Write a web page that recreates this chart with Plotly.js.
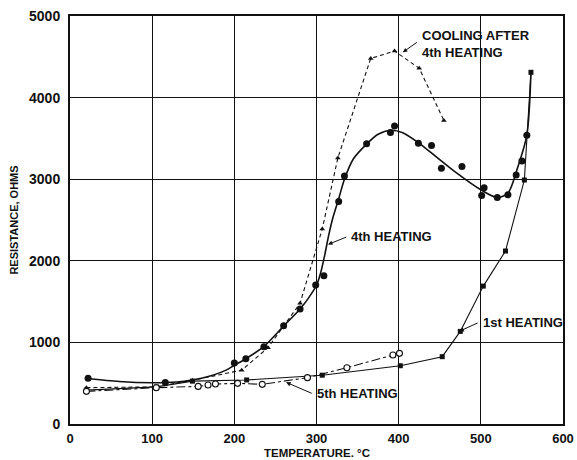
<!DOCTYPE html>
<html>
<head>
<meta charset="utf-8">
<script src="https://cdn.plot.ly/plotly-3.0.1.min.js"></script>
<style>html,body{margin:0;padding:0;background:#fff;}#chart{width:577px;height:460px;}</style>
</head>
<body>
<div id="chart"></div>
<script>
// 4th heating: measured points
const heat4T = [22, 116, 200, 214, 236, 260, 280, 299, 309, 327, 334, 361, 390, 395, 424, 440, 452, 477, 501, 504, 520, 533, 543, 550, 556];
const heat4R = [560, 510, 747, 800, 947, 1204, 1408, 1702, 1816, 2727, 3040, 3433, 3571, 3653, 3441, 3412, 3135, 3155, 2800, 2894, 2776, 2808, 3053, 3224, 3539];
// 4th heating: smooth drawn curve
const heat4CurveT = [20, 60, 100, 130, 160, 190, 200, 214, 236, 260, 280, 290, 300, 305, 310, 315, 320, 327, 334, 345, 361, 375, 390, 405, 425, 445, 470, 500, 520, 533, 545, 556, 561];
const heat4CurveR = [560, 520, 505, 515, 560, 660, 720, 800, 950, 1200, 1410, 1540, 1700, 1850, 2070, 2320, 2530, 2760, 3000, 3250, 3430, 3550, 3600, 3570, 3440, 3280, 3080, 2870, 2775, 2830, 3150, 3540, 4310];
// Cooling after 4th heating
const cool4T = [20, 105, 149, 209, 241, 280, 307, 326, 366, 395, 425, 455];
const cool4R = [445, 455, 535, 660, 935, 1480, 2390, 3260, 4480, 4570, 4360, 3720];
// 1st heating
const heat1T = [20, 105, 149, 215, 307, 402, 453, 475, 503, 530, 553, 561];
const heat1R = [415, 455, 525, 540, 598, 714, 825, 1135, 1690, 2120, 2990, 4310];
// 5th heating
const heat5T = [20, 105, 156, 168, 177, 204, 234, 289, 337, 393, 401];
const heat5R = [400, 445, 461, 478, 490, 498, 486, 568, 690, 845, 866];
// Axis ticks
const xTicks = [0, 100, 200, 300, 400, 500, 600];
const yTicks = [0, 1000, 2000, 3000, 4000, 5000];
const xTitle = 'TEMPERATURE. °C';
const yTitle = 'RESISTANCE, OHMS';
// Labels: [text, textT, textR, tailT, tailR, arrowHeadT, arrowHeadR]
const labels = [
  ["COOLING AFTER<br>4th HEATING", 426, 4660, 424, 4690, 405, 4555],
  ["4th HEATING", 340, 2298, 338, 2298, 314, 2200],
  ["1st HEATING", 500, 1247, 498, 1247, 474, 1137],
  ["5th HEATING", 298, 368, 296, 368, 263, 511]
];

const ink = '#111';
const fam = 'Liberation Sans, Arial, sans-serif';
const traces = [
  {x: heat4CurveT, y: heat4CurveR, mode: 'lines', line: {color: ink, width: 1.6, shape: 'spline', smoothing: 0.8}, hoverinfo: 'skip'},
  {x: heat4T, y: heat4R, mode: 'markers', marker: {color: ink, size: 7, symbol: 'circle'}},
  {x: cool4T, y: cool4R, mode: 'lines+markers', line: {color: ink, width: 1.1, dash: '4px,3px'}, marker: {color: ink, size: 5, symbol: 'triangle-up'}},
  {x: heat1T, y: heat1R, mode: 'lines+markers', line: {color: ink, width: 1.1}, marker: {color: ink, size: 5, symbol: 'square'}},
  {x: heat5T, y: heat5R, mode: 'lines+markers', line: {color: ink, width: 1.1, dash: 'dashdot'}, marker: {color: '#fff', size: 6, symbol: 'circle', line: {color: ink, width: 1.1}}}
];

const lblFont = {family: fam, size: 13, color: ink, weight: 'bold'};
const annotations = [];
labels.forEach(l => {
  annotations.push({x: l[1], y: l[2], xref: 'x', yref: 'y', text: l[0], showarrow: false, xanchor: 'left', yanchor: 'middle', align: 'left',
    font: lblFont});
  annotations.push({x: l[5], y: l[6], xref: 'x', yref: 'y', ax: l[3], ay: l[4], axref: 'x', ayref: 'y',
    text: '', showarrow: true, arrowhead: 2, arrowsize: 0.9, arrowwidth: 1, arrowcolor: ink});
});
// x-axis title placed at the very bottom of the figure, as in the reference
annotations.push({x: 0.5, y: -0.089, xref: 'paper', yref: 'paper', text: xTitle, showarrow: false,
  xanchor: 'center', yanchor: 'bottom', font: {family: fam, size: 11.5, color: ink, weight: 'bold'}, borderpad: 0});

const axisCommon = {
  showgrid: true, gridcolor: ink, gridwidth: 1.3,
  showline: true, linecolor: ink, linewidth: 2, mirror: true,
  zeroline: false, ticks: ''
};

const layout = {
  width: 577, height: 460,
  margin: {l: 70, r: 14, t: 16, b: 36},
  paper_bgcolor: '#fff', plot_bgcolor: '#fff',
  showlegend: false,
  xaxis: Object.assign({}, axisCommon, {range: [0, 600], tickvals: xTicks, ticktext: xTicks.map(String), ticklabelstandoff: 1,
    tickfont: {family: fam, size: 13, color: ink, weight: 'bold'}}),
  yaxis: Object.assign({}, axisCommon, {range: [0, 5000], tickvals: yTicks, ticktext: yTicks.map(String), ticklabelstandoff: 5,
    tickfont: {family: fam, size: 14, color: ink, weight: 'bold'},
    title: {text: yTitle, font: {family: fam, size: 11, color: ink, weight: 'bold'}, standoff: 8}}),
  annotations: annotations
};

Plotly.newPlot('chart', traces, layout, {staticPlot: true, displayModeBar: false});
</script>
</body>
</html>
